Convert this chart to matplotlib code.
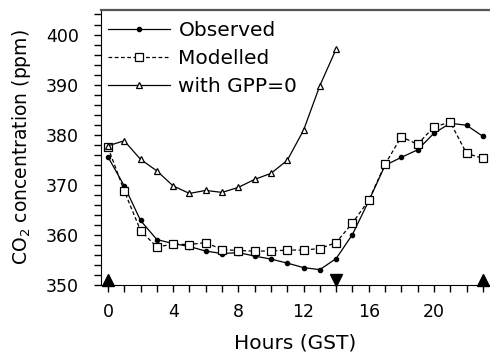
import numpy as np
import matplotlib.pyplot as plt
from matplotlib.ticker import MultipleLocator

hours = list(range(24))
observed = [375.6, 369.8, 362.9, 359.1, 358.3, 357.7, 356.8, 356.3, 356.5, 355.8,
            355.2, 354.4, 353.5, 353.1, 355.3, 360.1, 366.8, 373.9, 375.5, 377.0,
            380.3, 382.3, 381.9, 379.7]
modelled = [377.5, 368.8, 360.9, 357.6, 358.2, 358.1, 358.5, 357.1, 356.9, 356.8,
            356.8, 357.0, 357.0, 357.3, 358.5, 362.4, 366.9, 374.1, 379.6, 378.1,
            381.6, 382.5, 376.3, 375.3]
gpp_hours = list(range(15))
gpp0 = [377.8, 378.8, 375.1, 372.8, 369.8, 368.3, 368.9, 368.5, 369.5, 371.1,
        372.3, 374.9, 380.9, 389.8, 397.1]

# sunrise / sunset markers on the time axis
up_marks = [0, 23]
down_marks = [14]

fig = plt.figure(figsize=(4.9, 3.56), dpi=100)
ax = fig.add_axes([0.206, 0.199, 0.794, 0.773])

ax.plot(hours, observed, '-', color='black', lw=0.9, marker='o', ms=3,
        label='Observed')
ax.plot(hours, modelled, '--', color='black', lw=0.9, marker='s', ms=5.8,
        mfc='white', mew=0.9, dashes=(3, 2), label='Modelled')
ax.plot(gpp_hours, gpp0, '-', color='black', lw=0.9, marker='^', ms=4.8,
        mfc='white', mew=0.9, label='with GPP=0')

ax.plot(up_marks, [351] * len(up_marks), '^', color='black', ms=8, clip_on=False)
ax.plot(down_marks, [351] * len(down_marks), 'v', color='black', ms=8, clip_on=False)

ax.set_xlim(-0.43, 23.44)
ax.set_ylim(350, 404.9)
ax.xaxis.set_major_locator(MultipleLocator(4))
ax.xaxis.set_minor_locator(MultipleLocator(1))
ax.yaxis.set_major_locator(MultipleLocator(10))
ax.yaxis.set_minor_locator(MultipleLocator(2))
ax.tick_params(which='both', direction='out', length=5, width=1, labelsize=12.5)
ax.tick_params(axis='x', pad=8)
ax.tick_params(axis='y', pad=11)

ax.spines['right'].set_visible(False)
ax.spines['top'].set_color('#555555')
ax.spines['top'].set_linewidth(1.6)

ax.set_xlabel('Hours (GST)', fontsize=14.5, labelpad=9)
ax.set_ylabel('CO$_2$ concentration (ppm)', fontsize=13.5, labelpad=9)

ax.legend(loc='upper left', bbox_to_anchor=(0.0, 0.984), frameon=False,
          fontsize=14.5, handlelength=3.1, handletextpad=0.4, numpoints=1,
          labelspacing=0.43, borderaxespad=0.0, borderpad=0.35)

fig.savefig('out.png', dpi=100)
